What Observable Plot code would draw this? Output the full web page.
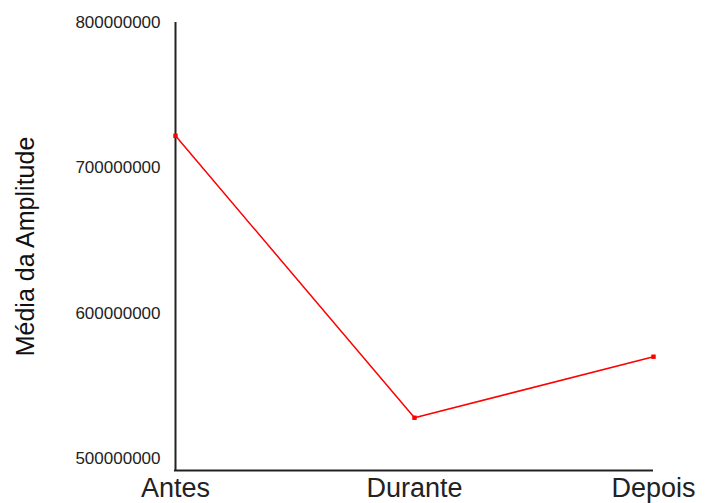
<!DOCTYPE html>
<html>
<head>
<meta charset="utf-8">
<script src="https://cdn.jsdelivr.net/npm/d3@7"></script>
<script src="https://cdn.jsdelivr.net/npm/@observablehq/plot@0.6"></script>
<style>
  body { margin: 0; background: #fff; }
  #chart svg { font-family: "Liberation Sans", Arial, sans-serif; }
</style>
</head>
<body>
<div id="chart"></div>
<script>
const categories = ["Antes", "Durante", "Depois"];
const values = [722000000, 528000000, 570000000];
const yTicks = [500000000, 600000000, 700000000, 800000000];
const yLabel = "Média da Amplitude";

const data = categories.map((c, i) => ({ periodo: c, media: values[i] }));
const yMin = 491700000, yMax = 800000000;

const chart = Plot.plot({
  width: 707,
  height: 503,
  marginLeft: 174,
  marginRight: 54,
  marginTop: 22,
  marginBottom: 33,
  style: { fontFamily: "Liberation Sans, Arial, sans-serif", background: "#fff", color: "#222" },
  x: { type: "point", domain: categories, padding: 0 },
  y: { domain: [yMin, yMax] },
  marks: [
    Plot.axisY({
      ticks: yTicks, tickFormat: d => String(d), tickSize: 0, tickPadding: 14,
      fontSize: 17, label: yLabel, labelAnchor: "center", labelOffset: 158, labelArrow: "none"
    }),
    Plot.axisX({ tickSize: 0, tickPadding: 7, fontSize: 27, label: null }),
    Plot.ruleX([categories[0]], { stroke: "#222", strokeWidth: 2 }),
    Plot.ruleY([yMin], { stroke: "#222", strokeWidth: 2 }),
    Plot.line(data, { x: "periodo", y: "media", stroke: "#ff0000", strokeWidth: 1.5 }),
    Plot.dot(data, { x: "periodo", y: "media", symbol: "square", fill: "#ff0000", r: 2.5 })
  ]
});
document.getElementById("chart").appendChild(chart);
d3.select(chart).selectAll('[aria-label="y-axis label"] text').style("font-size", "25px").attr("fill", "#111");
</script>
</body>
</html>
